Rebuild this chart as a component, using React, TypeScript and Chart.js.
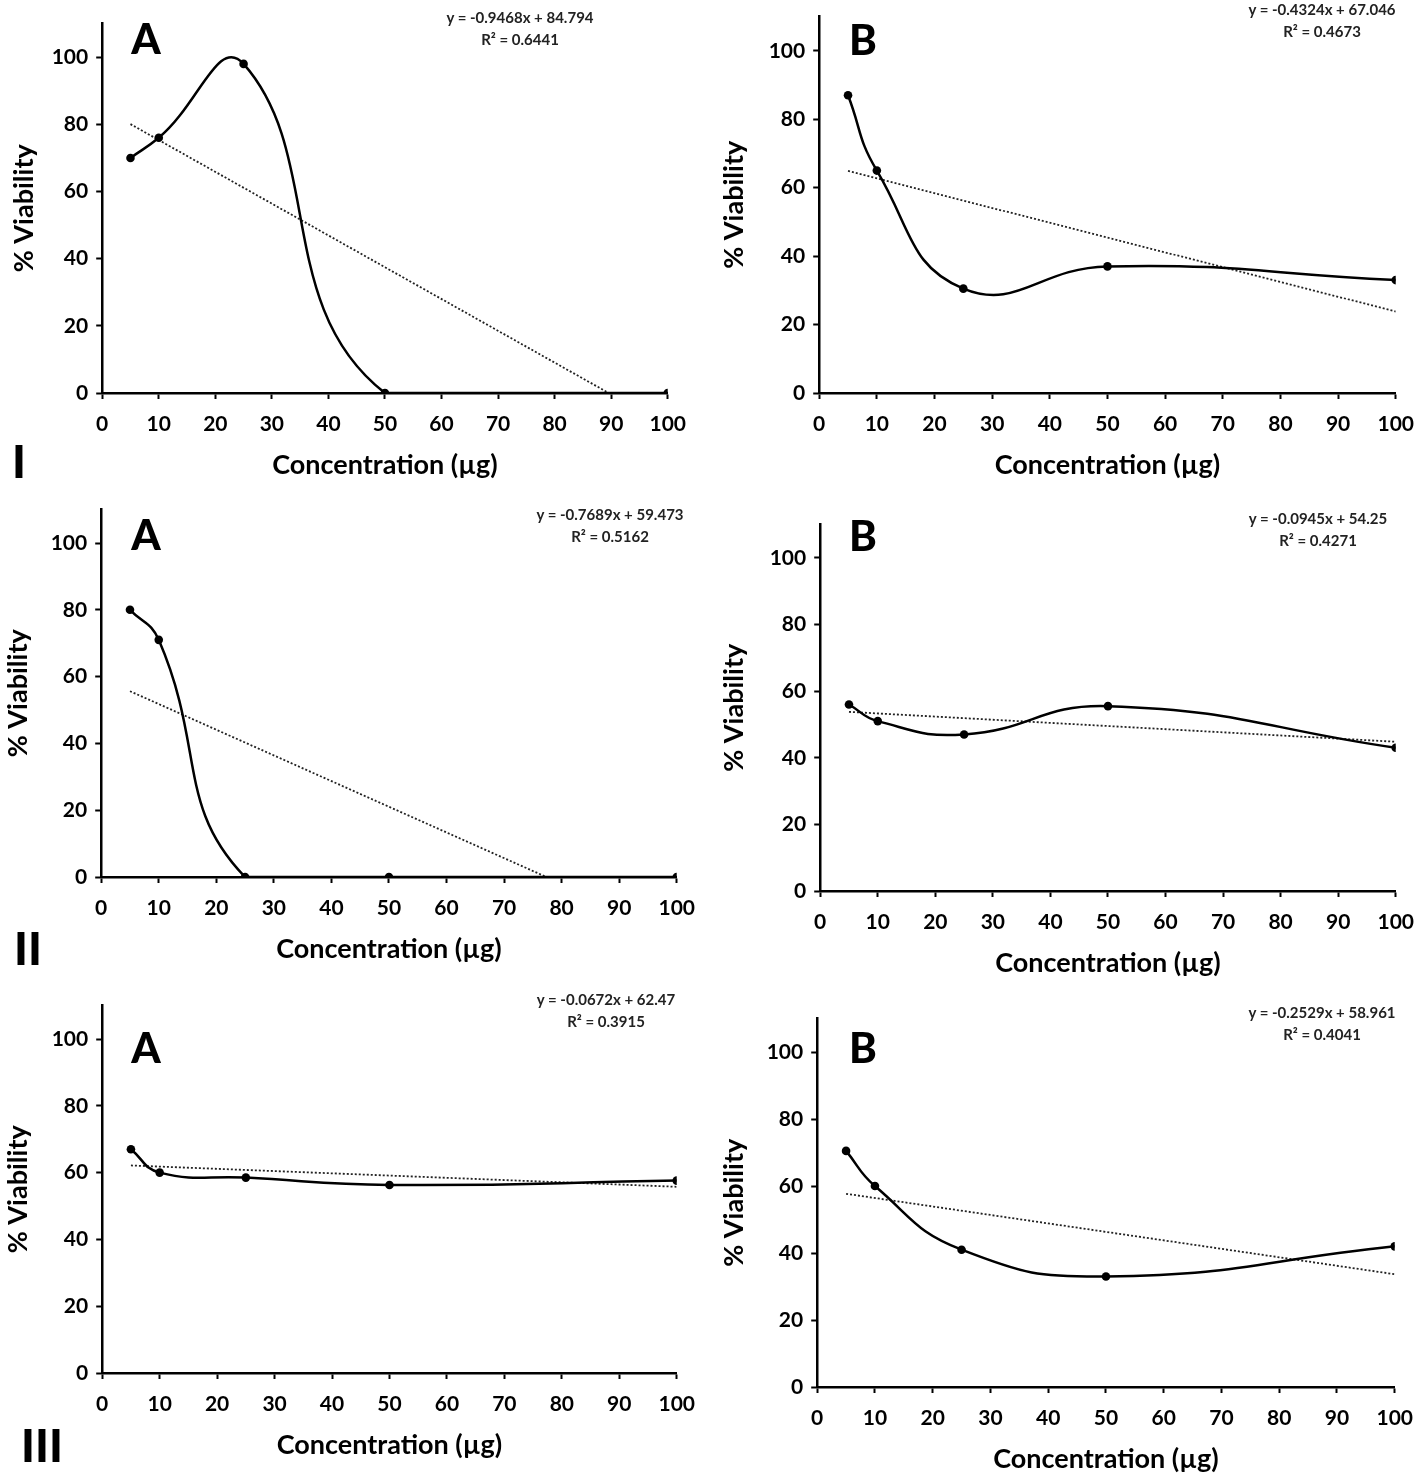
import React, { useEffect, useRef } from "react";
import { Chart, registerables } from "chart.js";

Chart.register(...registerables);

// ---------- data ----------
const concentrations = [5, 10, 25, 50, 100];
const viabilityIA = [70, 76, 98, 0, 0];
const viabilityIB = [87, 65, 30.5, 37, 33];
const viabilityIIA = [80, 71, 0, 0, 0];
const viabilityIIB = [56, 51, 47, 55.5, 43];
const viabilityIIIA = [67, 60, 58.5, 56.3, 57.6];
const viabilityIIIB = [70.5, 60, 41, 33, 42];
const trendSlopes = [-0.9468, -0.4324, -0.7689, -0.0945, -0.0672, -0.2529];
const trendIntercepts = [84.794, 67.046, 59.473, 54.25, 62.47, 58.961];
const rSquaredLabels = ["0.6441", "0.4673", "0.5162", "0.4271", "0.3915", "0.4041"];
const panelLetters = ["A", "B", "A", "B", "A", "B"];
const rowNumerals = ["I", "II", "III"];
const xTitle = "Concentration (µg)";
const yTitle = "% Viability";
const seriesList = [viabilityIA, viabilityIB, viabilityIIA, viabilityIIB, viabilityIIIA, viabilityIIIB];

// ---------- layout (page pixels) ----------
type Geo = {
  ox: number; oy: number; ex: number; ty: number;
  yTitleX: number;
  letterX: number; letterY: number;
  eqX: number; eqY: number;
};
const geometry: Geo[] = [
  { ox: 102, oy: 393, ex: 669, ty: 17, yTitleX: 24, letterX: 146, letterY: 38, eqX: 520, eqY: 17 },
  { ox: 819, oy: 393, ex: 1397, ty: 10, yTitleX: 734, letterX: 863, letterY: 39, eqX: 1322, eqY: 9 },
  { ox: 101, oy: 877, ex: 678, ty: 503, yTitleX: 18, letterX: 146, letterY: 534, eqX: 610, eqY: 514 },
  { ox: 820, oy: 891, ex: 1397, ty: 518, yTitleX: 734, letterX: 863, letterY: 535, eqX: 1318, eqY: 518 },
  { ox: 102, oy: 1373, ex: 678, ty: 999, yTitleX: 18, letterX: 146, letterY: 1047, eqX: 606, eqY: 999 },
  { ox: 817, oy: 1387, ex: 1396, ty: 1012, yTitleX: 734, letterX: 863, letterY: 1047, eqX: 1322, eqY: 1012 },
];
const numeralPos = [
  { x: 19, y: 461 },
  { x: 28, y: 948 },
  { x: 42, y: 1445 },
];

const FONT = "Lato, 'Open Sans', 'Noto Sans', sans-serif";
const PAD_TOP = 14;
const PAD_RIGHT = 30;
const X_BOX = 88;
const TITLE_SIZE = 27;

function Panel({ idx }: { idx: number }) {
  const ref = useRef<HTMLCanvasElement | null>(null);
  const g = geometry[idx];
  const yBoxW = g.ox - (g.yTitleX - (TITLE_SIZE * 1.2) / 2);
  const left = g.ox - yBoxW;
  const top = g.ty - PAD_TOP;
  const width = yBoxW + (g.ex - g.ox) + PAD_RIGHT;
  const height = PAD_TOP + (g.oy - g.ty) + X_BOX;

  useEffect(() => {
    if (!ref.current) return;
    const values = seriesList[idx];
    const slope = trendSlopes[idx];
    const intercept = trendIntercepts[idx];
    const trendXs = [concentrations[0], concentrations[concentrations.length - 1]];
    const tickFont = { family: FONT, size: 21, weight: "bold" as const };
    const titleFont = { family: FONT, size: TITLE_SIZE, weight: "bold" as const };
    const chart = new Chart(ref.current, {
      type: "line",
      data: {
        datasets: [
          {
            data: concentrations.map((x, i) => ({ x, y: values[i] })),
            borderColor: "#000",
            backgroundColor: "#000",
            borderWidth: 2.5,
            pointRadius: 4.3,
            pointBackgroundColor: "#000",
            pointBorderWidth: 0,
            tension: 0.47,
            fill: false,
            order: 0,
          },
          {
            data: trendXs.map((x) => ({ x, y: slope * x + intercept })),
            borderColor: "#222",
            borderWidth: 1.8,
            borderDash: [2, 2],
            pointRadius: 0,
            tension: 0,
            fill: false,
            order: 1,
          },
        ],
      },
      options: {
        animation: false,
        responsive: false,
        maintainAspectRatio: false,
        layout: { padding: { left: 0, top: PAD_TOP, right: PAD_RIGHT, bottom: 0 } },
        plugins: { legend: { display: false }, tooltip: { enabled: false } },
        scales: {
          x: {
            type: "linear",
            min: 0,
            max: 100,
            ticks: { stepSize: 10, font: tickFont, color: "#000", padding: 13 },
            grid: { drawOnChartArea: false, drawTicks: true, tickLength: 6, tickWidth: 2, tickColor: "#000" },
            border: { display: true, color: "#000", width: 2.5 },
            title: { display: true, text: xTitle, font: titleFont, color: "#000", padding: 0 },
            afterFit: (s: any) => {
              s.height = X_BOX;
            },
          },
          y: {
            type: "linear",
            min: 0,
            max: 110,
            ticks: { stepSize: 20, font: tickFont, color: "#000", padding: 8 },
            afterBuildTicks: (s: any) => {
              s.ticks = s.ticks.filter((t: any) => t.value <= 100);
            },
            grid: { drawOnChartArea: false, drawTicks: true, tickLength: 6, tickWidth: 2, tickColor: "#000" },
            border: { display: true, color: "#000", width: 2.5 },
            title: { display: true, text: yTitle, font: titleFont, color: "#000", padding: 0 },
            afterFit: (s: any) => {
              s.width = yBoxW;
            },
          },
        },
      },
    } as any);
    return () => chart.destroy();
  }, [idx]);

  return (
    <canvas
      ref={ref}
      width={width}
      height={height}
      style={{ position: "absolute", left, top, width, height }}
    />
  );
}

export default function App() {
  return (
    <div
      style={{
        position: "absolute",
        left: 0,
        top: 0,
        width: 1418,
        height: 1476,
        background: "#fff",
        overflow: "hidden",
        fontFamily: FONT,
        color: "#000",
      }}
    >
      {geometry.map((_, i) => (
        <Panel key={"p" + i} idx={i} />
      ))}
      {geometry.map((g, i) => (
        <div
          key={"l" + i}
          style={{
            position: "absolute",
            left: g.letterX,
            top: g.letterY,
            transform: "translate(-50%, -50%)",
            fontSize: 42,
            fontWeight: 900,
            lineHeight: 1,
          }}
        >
          {panelLetters[i]}
        </div>
      ))}
      {geometry.map((g, i) => (
        <div
          key={"e" + i}
          style={{
            position: "absolute",
            left: g.eqX,
            top: g.eqY - 11,
            transform: "translateX(-50%)",
            fontSize: 15,
            fontWeight: 700,
            lineHeight: "22px",
            textAlign: "center",
            whiteSpace: "nowrap",
            color: "#222",
          }}
        >
          <div>{`y = ${trendSlopes[i]}x + ${trendIntercepts[i]}`}</div>
          <div>{`R² = ${rSquaredLabels[i]}`}</div>
        </div>
      ))}
      {numeralPos.map((p, i) => (
        <div
          key={"n" + i}
          style={{
            position: "absolute",
            left: p.x,
            top: p.y,
            transform: "translate(-50%, -50%)",
            fontSize: 46,
            fontWeight: 900,
            lineHeight: 1,
          }}
        >
          {rowNumerals[i]}
        </div>
      ))}
    </div>
  );
}
